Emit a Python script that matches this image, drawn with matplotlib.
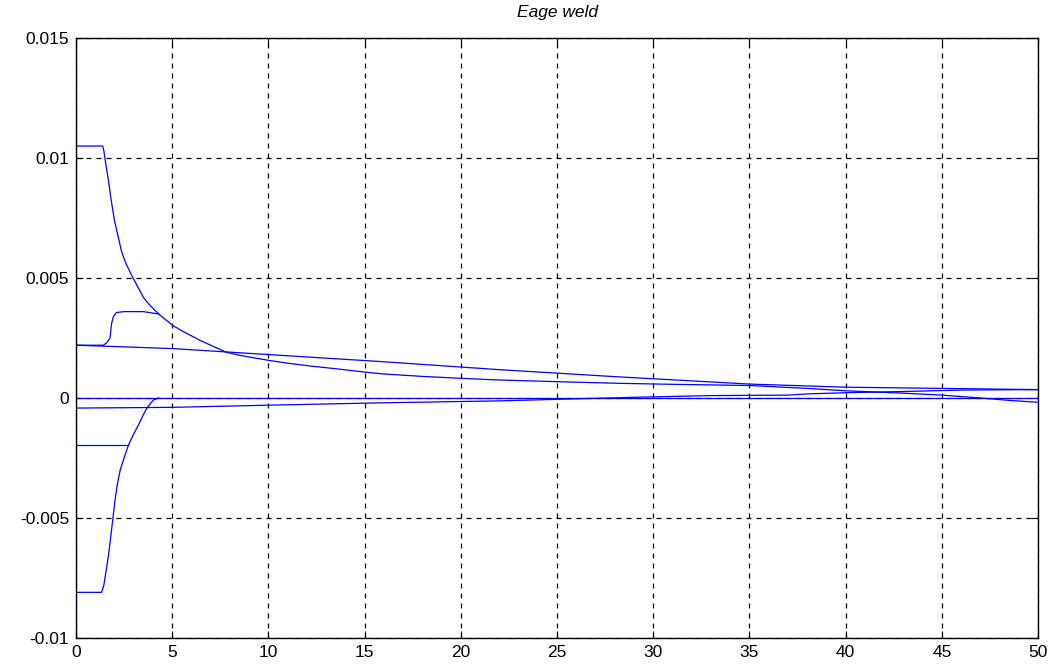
import matplotlib
matplotlib.use("Agg")
import matplotlib.pyplot as plt

# decaying curve (starts at 0.0105)
x_a = [0, 1.39, 1.45, 1.56, 1.7, 1.82, 2.0, 2.2, 2.37, 2.6, 2.9, 3.2, 3.5, 3.8,
       4.3, 4.6, 5.0, 5.5, 6.45, 7.0, 7.83, 8.5, 10, 11, 12.2, 13.5, 15, 16,
       18, 20, 22, 25, 28.3, 31, 35, 38, 40, 43, 45, 47, 48.5, 50]
y_a = [0.0105, 0.0105, 0.0103, 0.0097, 0.0090, 0.0083, 0.0074, 0.0067,
       0.0061, 0.0056, 0.0051, 0.00465, 0.0042, 0.0039, 0.0035, 0.0033,
       0.00304, 0.0028, 0.0024, 0.0022, 0.0019, 0.00178, 0.00157, 0.00145,
       0.00133, 0.00122, 0.00108, 0.00100, 0.00090, 0.00082, 0.00075,
       0.00068, 0.00061, 0.00057, 0.00052, 0.00040, 0.00030, 0.00020,
       0.00012, 0.0, -0.0001, -0.00018]

# slowly falling line from 0.0022
x_b = [0, 5, 10, 16, 22, 28, 35, 40, 45, 50]
y_b = [0.00220, 0.00206, 0.00181, 0.00151, 0.00118, 0.00089, 0.00058,
       0.00045, 0.00040, 0.00035]

# bump curve, joins the decaying curve
x_c = [0, 1.42, 1.6, 1.77, 1.85, 1.95, 2.1, 2.5, 3.5, 4.3]
y_c = [0.0022, 0.0022, 0.0023, 0.0025, 0.0031, 0.0034, 0.00356, 0.0036,
       0.0036, 0.0035]

# zero line
x_d = [0, 50]
y_d = [0, 0]

# slowly rising line from -0.0004
x_e = [0, 5, 10, 16, 22, 29, 33, 37, 38, 40, 43, 46, 50]
y_e = [-0.00042, -0.00039, -0.00030, -0.00020, -0.00012, 0.00003, 0.0001,
       0.00012, 0.00017, 0.00022, 0.00027, 0.00033, 0.00035]

# flat at -0.002 until it meets the rising curve
x_f = [0, 2.73]
y_f = [-0.00195, -0.00195]

# rising curve from -0.0081
x_g = [0, 1.33, 1.45, 1.6, 1.7, 1.87, 2.04, 2.15, 2.3, 2.5, 2.73, 3.0, 3.25,
       3.5, 3.68, 3.9, 4.03, 4.3]
y_g = [-0.0081, -0.0081, -0.0078, -0.00703, -0.0065, -0.00536, -0.00420,
       -0.0036, -0.0030, -0.0025, -0.00196, -0.0015, -0.00112, -0.0007,
       -0.00043, -0.0002, -0.00008, 0.0]

xticks = [0, 5, 10, 15, 20, 25, 30, 35, 40, 45, 50]
yticks = [-0.01, -0.005, 0, 0.005, 0.01, 0.015]
ytick_labels = ['-0.01', '-0.005', '0', '0.005', '0.01', '0.015']

plt.rcParams['font.family'] = ['Liberation Sans', 'DejaVu Sans']

fig = plt.figure(figsize=(10.55, 6.68), dpi=100)
ax = fig.add_axes([0.072, 0.045, 0.912, 0.898])

for xs, ys in [(x_a, y_a), (x_b, y_b), (x_c, y_c), (x_d, y_d),
               (x_e, y_e), (x_f, y_f), (x_g, y_g)]:
    ax.plot(xs, ys, color='#0000ff', linewidth=0.9)

ax.set_xlim(0, 50)
ax.set_ylim(-0.01, 0.015)
ax.set_xticks(xticks)
ax.set_xticklabels([str(t) for t in xticks])
ax.set_yticks(yticks)
ax.set_yticklabels(ytick_labels)
ax.tick_params(direction='in', length=5, width=0.8, top=True, right=True,
               labelsize=12.5, pad=5)
ax.grid(True, color='black', linestyle=(0, (4, 4)), linewidth=0.9)
for s in ax.spines.values():
    s.set_linewidth(1.0)
ax.set_title('Eage weld', fontsize=12.5, style='italic', pad=15)

fig.savefig('out.png', dpi=100)
